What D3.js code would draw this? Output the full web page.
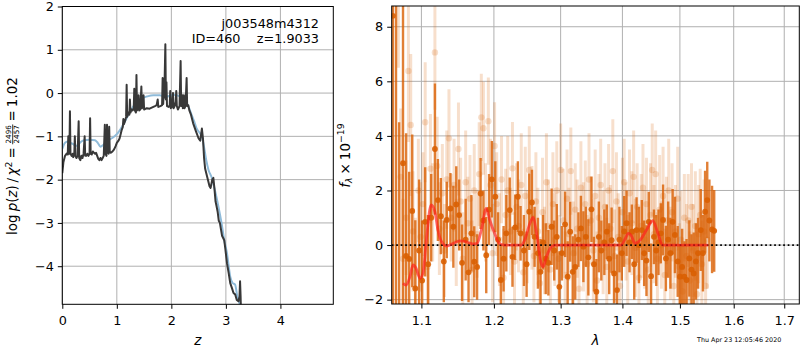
<!DOCTYPE html>
<html><head><meta charset="utf-8">
<script src="https://cdn.jsdelivr.net/npm/d3@7"></script>
<style>body{margin:0;background:#fff}svg{display:block}</style>
</head><body><svg id="c" width="800" height="350"></svg>
<script>
// ---------- data ----------
const pzZ = [0.00,0.02,0.05,0.08,0.10,0.11,0.12,0.13,0.14,0.15,0.17,0.19,0.20,0.22,0.23,0.24,0.26,0.28,0.30,0.31,0.33,0.35,0.37,0.39,0.41,0.42,0.44,0.46,0.48,0.50,0.51,0.52,0.54,0.56,0.58,0.60,0.62,0.64,0.66,0.68,0.70,0.72,0.74,0.76,0.78,0.79,0.81,0.82,0.83,0.85,0.86,0.87,0.89,0.92,0.95,0.98,1.00,1.03,1.05,1.07,1.09,1.11,1.12,1.13,1.15,1.17,1.18,1.19,1.21,1.23,1.24,1.25,1.27,1.29,1.31,1.32,1.33,1.35,1.36,1.37,1.39,1.40,1.41,1.43,1.45,1.46,1.48,1.49,1.50,1.55,1.60,1.65,1.70,1.73,1.75,1.76,1.80,1.83,1.84,1.85,1.86,1.87,1.89,1.90,1.91,1.92,1.95,1.97,1.98,1.99,2.01,2.03,2.04,2.06,2.08,2.09,2.10,2.12,2.15,2.17,2.18,2.20,2.21,2.23,2.24,2.26,2.28,2.29,2.31,2.33,2.36,2.40,2.45,2.50,2.53,2.56,2.58,2.60,2.62,2.66,2.70,2.72,2.75,2.77,2.79,2.81,2.83,2.85,2.87,2.89,2.91,2.93,2.95,2.97,2.99,3.02,3.05,3.08,3.11,3.14,3.17,3.20,3.23,3.25,3.26,3.27,3.28];
const pzLog = [-1.85,-1.60,-1.45,-1.40,-1.42,-1.00,-1.38,-1.40,-0.42,-1.40,-1.45,-1.40,-1.48,-1.40,-1.00,-1.45,-1.50,-1.45,-0.65,-1.50,-1.55,-1.45,-1.50,-1.40,-1.00,-1.45,-1.45,-1.40,-1.45,-1.40,-0.58,-1.40,-1.42,-1.35,-1.38,-1.40,-1.38,-1.45,-1.52,-1.55,-1.50,-1.55,-1.50,-1.45,-0.73,-1.40,-1.45,-0.73,-1.35,-1.40,-0.78,-1.35,-1.38,-1.35,-1.30,-1.22,-1.15,-1.10,-1.05,-0.95,-0.85,-0.78,-0.60,-0.72,-0.65,-0.55,0.19,-0.55,-0.45,-0.50,-0.15,-0.45,-0.38,-0.40,-0.35,0.10,-0.40,-0.45,0.42,-0.40,-0.35,-0.05,-0.40,-0.38,0.15,-0.35,-0.30,-0.05,-0.38,-0.35,-0.36,-0.33,-0.30,-0.28,-0.15,-0.32,-0.30,-0.28,0.35,-0.25,0.00,-0.10,1.13,-0.15,0.25,-0.30,-0.32,-0.28,0.05,-0.35,-0.32,0.00,-0.35,-0.30,-0.20,0.05,-0.30,-0.38,-0.30,0.74,-0.30,-0.05,-0.35,-0.05,-0.35,-0.30,0.35,-0.30,-0.28,-0.40,-0.50,-0.70,-0.88,-1.05,-1.10,-0.82,-1.05,-1.50,-1.75,-1.95,-2.15,-2.19,-2.00,-1.96,-2.20,-2.50,-2.62,-2.75,-2.95,-3.00,-3.15,-3.30,-3.35,-3.40,-3.60,-3.93,-4.15,-4.39,-4.50,-4.62,-4.65,-4.78,-4.81,-4.70,-4.35,-4.70,-5.20];
const fitZ = [0.00,0.05,0.10,0.15,0.20,0.25,0.30,0.35,0.40,0.50,0.60,0.65,0.70,0.75,0.80,0.90,0.96,1.00,1.06,1.12,1.18,1.24,1.30,1.36,1.43,1.50,1.55,1.67,1.79,1.85,1.92,1.98,2.04,2.10,2.16,2.22,2.28,2.33,2.37,2.42,2.46,2.52,2.56,2.60,2.64,2.68,2.74,2.80,2.86,2.92,2.97,3.02,3.08,3.12,3.17,3.21,3.25,3.28];
const fitLog = [-1.29,-1.15,-1.12,-1.15,-1.18,-1.22,-1.18,-1.12,-1.09,-1.08,-1.09,-1.15,-1.24,-1.20,-1.13,-1.05,-1.00,-0.95,-0.85,-0.72,-0.58,-0.44,-0.31,-0.21,-0.15,-0.10,-0.08,-0.05,-0.05,-0.07,-0.08,-0.06,-0.04,-0.05,-0.08,-0.14,-0.23,-0.36,-0.50,-0.66,-0.81,-0.92,-1.00,-1.25,-1.55,-1.77,-1.95,-2.25,-2.60,-3.00,-3.40,-3.70,-4.24,-4.38,-4.43,-4.70,-4.86,-5.10];

const lamLight = [1.070,1.073,1.076,1.080,1.083,1.086,1.089,1.092,1.096,1.099,
1.102,1.105,1.108,1.112,1.115,1.118,1.121,1.124,1.128,1.131,
1.134,1.137,1.140,1.144,1.147,1.150,1.153,1.156,1.160,1.163,
1.166,1.169,1.172,1.176,1.179,1.182,1.185,1.188,1.192,1.195,
1.198,1.201,1.204,1.208,1.211,1.214,1.217,1.220,1.224,1.227,
1.230,1.233,1.236,1.240,1.243,1.246,1.249,1.252,1.256,1.259,
1.262,1.265,1.268,1.272,1.275,1.278,1.281,1.284,1.288,1.291,
1.294,1.297,1.300,1.304,1.307,1.310,1.313,1.316,1.320,1.323,
1.326,1.329,1.332,1.336,1.339,1.342,1.345,1.348,1.352,1.355,
1.358,1.361,1.364,1.368,1.371,1.374,1.377,1.380,1.384,1.387,
1.390,1.393,1.396,1.400,1.403,1.406,1.409,1.412,1.416,1.419,
1.422,1.425,1.428,1.432,1.435,1.438,1.441,1.444,1.448,1.451,
1.454,1.457,1.460,1.464,1.467,1.470,1.473,1.476,1.480,1.483,
1.486,1.489,1.492,1.496,1.499,1.502,1.505,1.508,1.512,1.515,
1.518,1.521,1.524,1.528,1.531,1.534,1.537,1.540,1.544,1.547,
1.550];
const fluxLight = [9.5,2.5,-0.5,1.0,6.38,4.4,0.5,-1.0,2.0,0.3,
1.5,4.5,-0.8,2.8,1.2,7.06,2.9,0.6,1.9,-0.2,
2.4,3.91,1.0,2.2,0.1,3.52,1.6,-0.5,2.3,0.8,
1.7,-0.9,2.0,0.4,2.6,4.68,4.28,1.2,4.54,2.2,
-0.3,3.63,1.5,0.2,2.4,-1.2,1.1,2.0,0.5,2.81,
-0.6,1.4,0.7,2.2,-1.0,1.8,0.3,2.75,1.0,-0.4,
1.6,0.5,-1.4,1.2,-0.2,2.3,0.7,-0.9,1.5,0.2,
2.0,-0.5,2.75,0.9,-1.1,1.7,0.4,2.71,-0.3,1.3,
0.6,-1.6,2.1,0.3,1.5,-0.7,2.4,0.9,-0.2,1.8,
-1.3,1.0,2.2,0.1,1.4,-0.8,2.0,0.6,2.71,-0.4,
1.6,0.3,-1.5,1.2,2.3,0.5,-0.6,1.9,0.8,2.5,
-0.1,1.4,-1.2,0.7,2.1,0.2,1.5,-0.9,1.1,2.75,
0.4,2.6,-0.5,1.3,0.0,1.8,-1.1,0.9,2.0,-0.3,
1.2,-1.5,0.5,1.7,-0.8,0.2,-1.7,1.0,-0.4,0.9,
-1.3,1.4,-0.2,0.7,-1.8,0.4,1.1,-0.7,0.5,-1.5,
0.2];
const errLight = [3.0,2.5,2.2,2.1,2.6,2.6,2.2,2.0,1.9,2.0,
1.9,2.2,1.9,2.0,1.8,2.1,1.8,1.7,1.8,1.7,
1.8,1.8,1.6,1.7,1.6,1.7,1.6,1.7,1.9,1.7,
1.6,1.8,1.7,1.6,1.9,1.6,1.7,1.8,1.6,1.7,
1.8,1.6,1.9,1.7,1.6,1.8,1.7,2.0,1.6,1.7,
1.8,1.6,1.7,1.9,1.6,1.8,1.7,1.6,1.9,1.7,
1.8,1.6,1.7,2.0,1.6,1.8,1.7,1.6,1.9,1.7,
1.8,1.6,1.7,1.9,1.6,1.8,1.7,1.6,1.9,1.7,
1.8,1.6,1.7,2.0,1.6,1.8,1.7,1.6,1.9,1.7,
1.8,1.6,1.7,1.9,1.6,1.8,1.7,1.6,1.9,1.7,
1.8,1.6,1.7,2.0,1.6,1.8,1.7,1.6,1.9,1.7,
1.8,1.6,1.7,1.9,1.6,1.8,1.7,1.6,1.9,1.7,
1.8,1.6,1.7,2.0,1.6,1.8,1.7,1.6,1.9,1.7,
1.8,1.6,1.7,1.9,1.6,1.8,1.7,1.6,1.9,1.7,
1.8,1.6,1.7,2.0,1.6,1.8,1.7,1.6,1.9,1.7,
1.8];

const lamBin = [1.063,1.067,1.071,1.076,1.080,1.084,1.088,1.092,1.097,1.101,
1.105,1.109,1.113,1.118,1.122,1.126,1.130,1.134,1.139,1.143,
1.147,1.151,1.155,1.160,1.164,1.168,1.172,1.176,1.181,1.185,
1.189,1.193,1.197,1.202,1.206,1.210,1.214,1.218,1.223,1.227,
1.231,1.235,1.239,1.244,1.248,1.252,1.256,1.260,1.265,1.269,
1.273,1.277,1.281,1.286,1.290,1.294,1.298,1.302,1.307,1.311,
1.315,1.319,1.323,1.328,1.332,1.336,1.340,1.344,1.349,1.353,
1.357,1.361,1.365,1.370,1.374,1.378,1.382,1.386,1.391,1.395,
1.399,1.403,1.407,1.412,1.416,1.420,1.424,1.428,1.433,1.437,
1.441,1.445,1.449,1.454,1.458,1.462,1.466,1.470,1.475,1.479,
1.483,1.487,1.491,1.496,1.500,1.504,1.508,1.512,1.517,1.521,
1.525,1.529,1.533,1.538,1.542,1.546,1.550,1.554,1.559,1.563];
const fluxBin = [8.4,12.0,-3.5,3.0,-0.4,-0.51,1.25,-1.59,-0.2,-1.3,
0.85,-0.7,1.0,3.52,1.65,1.06,-0.6,0.92,1.34,0.67,
1.49,1.1,-0.65,0.2,-1.0,0.43,-0.61,-0.8,1.89,0.9,
-0.37,1.3,2.41,1.77,0.2,-1.28,-0.5,0.43,1.28,-0.43,
0.65,1.77,0.43,-0.2,-0.70,1.22,1.56,0.3,-0.3,-0.98,
0.1,-0.5,-0.65,0.67,-0.2,0.3,-1.53,-0.3,0.76,-1.16,
0.49,-0.98,-0.8,0.2,0.61,-0.06,0.3,-0.45,1.31,-0.70,
-1.71,0.30,-0.2,0.1,0.49,-0.5,0.18,-1.04,-1.65,0.2,
-0.3,0.5,0.80,0.1,0.49,-0.70,0.55,0.0,0.55,-0.3,
-0.57,0.85,-1.14,0.3,-0.2,0.1,0.43,0.92,-0.49,0.2,
-0.3,0.85,0.37,-0.6,-1.16,-0.8,-1.16,-1.28,-0.49,-0.9,
-1.04,-0.6,-0.30,0.55,-0.30,1.22,1.65,0.9,0.57,0.52];
const errBin = [12,15,8,6,4.5,3.2,2.8,2.5,2.6,2.2,
2.0,1.8,1.6,2.4,1.5,1.4,1.5,1.4,1.3,1.5,
1.4,1.3,1.4,1.5,1.1,1.4,1.3,1.2,1.3,1.1,
1.4,1.3,1.4,1.3,1.0,1.3,1.2,1.4,1.2,1.1,
1.2,1.3,1.0,1.3,1.2,1.4,1.2,1.1,1.3,1.2,
1.0,1.3,1.2,1.4,1.1,1.2,1.3,1.0,1.2,1.3,
1.1,1.3,1.2,1.0,1.2,1.3,1.1,1.4,1.2,1.0,
1.2,1.3,1.1,1.2,1.0,1.3,1.2,1.1,1.3,1.2,
1.0,1.3,1.2,1.1,1.0,1.3,1.2,1.4,1.1,1.2,
1.3,1.1,1.2,1.0,1.3,1.2,1.1,1.3,1.2,1.4,
1.3,1.2,1.4,1.3,1.2,1.4,1.3,1.5,1.4,1.3,
1.5,1.4,1.3,1.5,1.4,1.5,1.4,1.5,1.6,1.5];

const lamModel = [1.076,1.080,1.085,1.089,1.093,1.098,1.102,1.107,1.111,1.113,1.118,1.122,1.127,1.134,1.143,1.152,1.161,1.170,1.176,1.182,1.189,1.194,1.201,1.208,1.215,1.240,1.245,1.253,1.258,1.263,1.270,1.273,1.278,1.286,1.292,1.398,1.404,1.410,1.415,1.421,1.430,1.441,1.452,1.461,1.469,1.552];
const fluxModel = [-1.40,-1.47,-1.16,-0.73,-0.85,-1.22,-1.04,0.30,1.28,1.47,1.22,0.55,0.12,-0.04,0.06,0.15,0.12,0.04,0.06,0.55,1.34,0.92,0.43,0.06,0.0,0.0,0.18,0.80,1.01,0.43,-0.67,-0.80,-0.43,-0.06,0.0,0.0,0.20,0.43,0.35,0.06,0.18,0.55,0.89,0.43,0.0,0.0];

const zTicks = [0,1,2,3,4];
const pzTicks = [-4,-3,-2,-1,0,1,2];
const lamTicks = [1.1,1.2,1.3,1.4,1.5,1.6,1.7];
const fluxTicks = [-2,0,2,4,6,8];
const idLine1 = "j003548m4312";
const idLine2 = "ID=460    z=1.9033";
const stamp = "Thu Apr 23 12:05:46 2020";

// ---------- drawing ----------
const FONT = '"DejaVu Sans", sans-serif';
const TICKFS = 12.8, LABFS = 13.5;
const C = "#d95f02";
const svg = d3.select("#c").attr("font-family", FONT);

const LB = {x0:62.3, x1:333.3, y0:6.5, y1:304.3};
const RB = {x0:391.7, x1:799.3, y0:6, y1:304};

const xz = d3.scaleLinear().domain([0,4.97]).range([LB.x0,LB.x1]);
const yp = d3.scaleLinear().domain([-4.88,2]).range([LB.y1,LB.y0]);
const xl = d3.scaleLog().domain([1.0615,1.731]).range([RB.x0,RB.x1]);
const yf = d3.scaleLinear().domain([-2.16,8.76]).range([RB.y1,RB.y0]);

const defs = svg.append("defs");
function clip(id, b){ defs.append("clipPath").attr("id",id).append("rect")
  .attr("x",b.x0).attr("y",b.y0).attr("width",b.x1-b.x0).attr("height",b.y1-b.y0); }
clip("cl", LB); clip("cr", RB);

function grid(b, x, y, xt, yt){
  const g = svg.append("g");
  g.selectAll(".gx").data(xt).join("line").attr("x1",d=>x(d)).attr("x2",d=>x(d))
    .attr("y1",b.y0).attr("y2",b.y1).attr("stroke","#b0b0b0").attr("stroke-width",1);
  g.selectAll(".gy").data(yt).join("line").attr("y1",d=>y(d)).attr("y2",d=>y(d))
    .attr("x1",b.x0).attr("x2",b.x1).attr("stroke","#b0b0b0").attr("stroke-width",1);
}
function axes(b, x, y, xt, yt, xfmt, yfmt){
  const ax = svg.append("g").attr("transform",`translate(0,${b.y1})`)
    .call(d3.axisBottom(x).tickValues(xt).tickFormat(xfmt).tickSize(4.5).tickPadding(7.3));
  const ay = svg.append("g").attr("transform",`translate(${b.x0},0)`)
    .call(d3.axisLeft(y).tickValues(yt).tickFormat(yfmt).tickSize(4.5).tickPadding(4));
  [ax,ay].forEach(a=>{
    a.attr("font-family",FONT).attr("font-size",TICKFS);
    a.select(".domain").remove();
    a.selectAll("line").attr("stroke","#000").attr("stroke-width",1);
    a.selectAll("text").attr("fill","#000");
  });
  svg.append("rect").attr("x",b.x0).attr("y",b.y0).attr("width",b.x1-b.x0).attr("height",b.y1-b.y0)
    .attr("fill","none").attr("stroke","#000").attr("stroke-width",1);
}

// ----- left panel -----
grid(LB, xz, yp, zTicks, pzTicks);
const gl = svg.append("g").attr("clip-path","url(#cl)");
const fitPts = fitZ.map((z,i)=>[z,fitLog[i]]);
const pzPts = pzZ.map((z,i)=>[z,pzLog[i]]);
gl.append("path").datum(fitPts)
  .attr("d", d3.line().x(d=>xz(d[0])).y(d=>yp(d[1])).curve(d3.curveMonotoneX))
  .attr("fill","none").attr("stroke","#8fbbd9").attr("stroke-width",2);
gl.append("path").datum(pzPts)
  .attr("d", d3.line().x(d=>xz(d[0])).y(d=>yp(d[1])))
  .attr("fill","none").attr("stroke","#383838").attr("stroke-width",2).attr("stroke-linejoin","round");
axes(LB, xz, yp, zTicks, pzTicks, d3.format("d"), d3.format("d"));

svg.append("text").attr("x",319).attr("y",28.3).attr("text-anchor","end")
  .attr("font-size",12.8).text(idLine1);
svg.append("text").attr("x",319).attr("y",43.3).attr("text-anchor","end")
  .attr("font-size",12.8).style("white-space","pre").text(idLine2);

// ----- right panel -----
grid(RB, xl, yf, lamTicks, fluxTicks);
const gr = svg.append("g").attr("clip-path","url(#cr)");
const light = lamLight.map((l,i)=>({l, f:fluxLight[i], e:errLight[i]}));
const bins = lamBin.map((l,i)=>({l, f:fluxBin[i], e:errBin[i]}));
gr.append("g").selectAll("line").data(light).join("line")
  .attr("x1",d=>xl(d.l)).attr("x2",d=>xl(d.l)).attr("y1",d=>yf(d.f-d.e)).attr("y2",d=>yf(d.f+d.e))
  .attr("stroke",C).attr("stroke-opacity",0.2).attr("stroke-width",3);
gr.append("g").selectAll("circle").data(light).join("circle")
  .attr("cx",d=>xl(d.l)).attr("cy",d=>yf(d.f)).attr("r",3.2)
  .attr("fill",C).attr("fill-opacity",0.2);
gr.append("g").selectAll("line").data(bins).join("line")
  .attr("x1",d=>xl(d.l)).attr("x2",d=>xl(d.l)).attr("y1",d=>yf(d.f-d.e)).attr("y2",d=>yf(d.f+d.e))
  .attr("stroke",C).attr("stroke-opacity",0.8).attr("stroke-width",2.4);
gr.append("g").selectAll("circle").data(bins).join("circle")
  .attr("cx",d=>xl(d.l)).attr("cy",d=>yf(d.f)).attr("r",2.9)
  .attr("fill",C).attr("fill-opacity",0.9);
gr.append("line").attr("x1",RB.x0).attr("x2",RB.x1).attr("y1",yf(0)).attr("y2",yf(0))
  .attr("stroke","#000").attr("stroke-width",1.7).attr("stroke-dasharray","1.7,2.8");
const modelPts = lamModel.map((l,i)=>[l,fluxModel[i]]);
gr.append("path").datum(modelPts)
  .attr("d", d3.line().x(d=>xl(d[0])).y(d=>yf(d[1])).curve(d3.curveMonotoneX))
  .attr("fill","none").attr("stroke","#ff1a1a").attr("stroke-opacity",0.65).attr("stroke-width",2.8);
axes(RB, xl, yf, lamTicks, fluxTicks, d3.format(".1f"), d3.format("d"));

// ----- axis labels -----
svg.append("text").attr("x",(LB.x0+LB.x1)/2).attr("y",345).attr("text-anchor","middle")
  .attr("font-size",LABFS).attr("font-style","italic").text("z");
svg.append("text").attr("x",(RB.x0+RB.x1)/2).attr("y",345).attr("text-anchor","middle")
  .attr("font-size",LABFS).attr("font-style","italic").text("λ");

function mathLabel(cy, baseX, pieces){
  const outer = svg.append("g").attr("transform",`translate(${baseX},${cy}) rotate(-90)`);
  const g = outer.append("g");
  let x = 0;
  pieces.forEach(p=>{
    if (p.gap){ x += p.gap; return; }
    if (p.frac){
      const n = g.append("text").attr("font-size",p.size).attr("y",p.ny).attr("text-anchor","middle").text(p.num);
      const d = g.append("text").attr("font-size",p.size).attr("y",p.dy).attr("text-anchor","middle").text(p.den);
      const w = Math.max(n.node().getComputedTextLength(), d.node().getComputedTextLength()) + 1.5;
      n.attr("x", x + w/2); d.attr("x", x + w/2);
      g.append("line").attr("x1",x).attr("x2",x+w).attr("y1",p.bar).attr("y2",p.bar)
        .attr("stroke","#000").attr("stroke-width",0.8);
      x += w; return;
    }
    const t = g.append("text").attr("x",x).attr("y",p.y||0).attr("font-size",p.size||LABFS)
      .attr("font-style",p.it?"italic":"normal").text(p.t);
    x += t.node().getComputedTextLength();
  });
  g.attr("transform",`translate(${-x/2},0)`);
}
mathLabel(156, 17.3, [
  {t:"log"},{gap:3},{t:"p",it:true},{t:"("},{t:"z",it:true},{t:")"},{gap:2.5},{t:"/"},{gap:2.5},
  {t:"χ",it:true},{t:"2",size:9.4,y:-5.6},{gap:3},{t:"="},{gap:3},
  {frac:true,num:"2496",den:"2457",size:7.2,ny:-5.9,dy:1.3,bar:-4.6},
  {gap:3},{t:"="},{gap:3},{t:"1.02"}
]);
mathLabel(155.5, 349.5, [
  {t:"f",it:true},{t:"λ",it:true,size:9.4,y:2.8},{gap:3},{t:"×"},{gap:3},{t:"10"},{t:"−19",size:9.4,y:-5.6}
]);

svg.append("text").attr("x",697).attr("y",342).attr("font-size",6.4).text(stamp);
</script></body></html>
